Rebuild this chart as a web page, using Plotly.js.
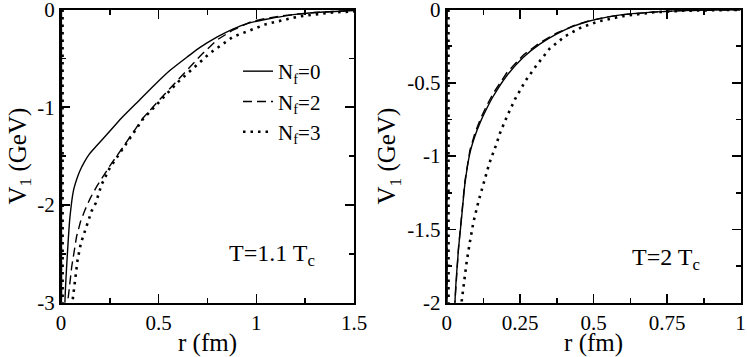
<!DOCTYPE html>
<html>
<head>
<meta charset="utf-8">
<script src="https://cdn.plot.ly/plotly-3.0.1.min.js"></script>
<style>
html, body { margin: 0; padding: 0; background: #fff; }
#chart { width: 747px; height: 357px; }
</style>
</head>
<body>
<div id="chart"></div>
<script>
// left panel: T = 1.1 Tc
var rLeft0 = [0.002, 0.003, 0.02, 0.034, 0.046, 0.063, 0.08, 0.097, 0.12, 0.145, 0.18, 0.23, 0.31, 0.4, 0.48, 0.56, 0.65, 0.71, 0.8, 0.88, 0.96, 1.05, 1.15, 1.22, 1.3, 1.4, 1.5];
var vLeft0 = [0, -10, -3.0, -2.46, -2.12, -1.86, -1.74, -1.65, -1.56, -1.48, -1.40, -1.29, -1.11, -0.93, -0.77, -0.62, -0.48, -0.39, -0.28, -0.20, -0.14, -0.10, -0.065, -0.045, -0.03, -0.02, -0.01];

var rLeft2 = [0.002, 0.003, 0.034, 0.055, 0.08, 0.1, 0.123, 0.15, 0.183, 0.25, 0.31, 0.36, 0.42, 0.515, 0.62, 0.72, 0.8, 0.88, 0.98, 1.05, 1.15, 1.22, 1.3, 1.4, 1.5];
var vLeft2 = [0, -10, -3.0, -2.63, -2.32, -2.17, -2.05, -1.93, -1.81, -1.60, -1.43, -1.28, -1.11, -0.90, -0.68, -0.46, -0.31, -0.21, -0.12, -0.09, -0.06, -0.045, -0.03, -0.02, -0.01];

var rLeft3 = [0.008, 0.009, 0.058, 0.072, 0.085, 0.102, 0.123, 0.14, 0.157, 0.178, 0.208, 0.25, 0.31, 0.42, 0.515, 0.6, 0.7, 0.76, 0.88, 1.05, 1.22, 1.39, 1.5];
var vLeft3 = [0, -10, -3.0, -2.78, -2.56, -2.39, -2.27, -2.17, -2.06, -1.98, -1.79, -1.62, -1.44, -1.12, -0.92, -0.74, -0.56, -0.45, -0.28, -0.15, -0.07, -0.03, -0.02];

// right panel: T = 2 Tc
var rRight0 = [0.001, 0.002, 0.028, 0.04, 0.051, 0.062, 0.079, 0.095, 0.114, 0.135, 0.159, 0.205, 0.261, 0.318, 0.375, 0.432, 0.483, 0.55, 0.6, 0.7, 0.8, 0.9, 1];
var vRight0 = [0, -10, -2.0, -1.64, -1.415, -1.19, -0.98, -0.87, -0.77, -0.68, -0.59, -0.45, -0.325, -0.234, -0.166, -0.114, -0.08, -0.05, -0.035, -0.018, -0.008, -0.004, -0.002];
var vRight2 = [0, -10, -2.0, -1.63, -1.40, -1.17, -0.96, -0.85, -0.75, -0.66, -0.57, -0.43, -0.31, -0.225, -0.16, -0.11, -0.078, -0.05, -0.035, -0.018, -0.008, -0.004, -0.002];

var rRight3 = [0.006, 0.007, 0.051, 0.059, 0.068, 0.079, 0.091, 0.108, 0.125, 0.145, 0.167, 0.182, 0.205, 0.233, 0.267, 0.307, 0.35, 0.403, 0.46, 0.52, 0.6, 0.7, 0.8, 0.9, 1];
var vRight3 = [0, -10, -1.99, -1.86, -1.72, -1.585, -1.45, -1.31, -1.19, -1.05, -0.93, -0.84, -0.73, -0.61, -0.49, -0.377, -0.268, -0.182, -0.12, -0.08, -0.045, -0.02, -0.009, -0.004, -0.002];

var seriesNames = ["N<sub>f</sub>=0", "N<sub>f</sub>=2", "N<sub>f</sub>=3"];

var xTicksLeft = [0, 0.5, 1, 1.5];
var xTextLeft = ["0", "0.5", "1", "1.5"];
var yTicksLeft = [-3, -2, -1, 0];
var yTextLeft = ["-3", "-2", "-1", "0"];
var xTicksRight = [0, 0.25, 0.5, 0.75, 1];
var xTextRight = ["0", "0.25", "0.5", "0.75", "1"];
var yTicksRight = [-2, -1.5, -1, -0.5, 0];
var yTextRight = ["-2", "-1.5", "-1", "-0.5", "0"];

var serif = "Liberation Serif";
var solid = {color: "#000", width: 1.4, shape: "spline", smoothing: 0.6};
var dashed = {color: "#000", width: 1.4, dash: "9px,5px"};
var dotted = {color: "#000", width: 2.6, dash: "2.5px,5px"};

var data = [
  {x: rLeft0, y: vLeft0, name: seriesNames[0], mode: "lines", line: solid, xaxis: "x", yaxis: "y"},
  {x: rLeft2, y: vLeft2, name: seriesNames[1], mode: "lines", line: dashed, xaxis: "x", yaxis: "y"},
  {x: rLeft3, y: vLeft3, name: seriesNames[2], mode: "lines", line: dotted, xaxis: "x", yaxis: "y"},
  {x: rRight0, y: vRight0, name: seriesNames[0], mode: "lines", line: solid, xaxis: "x2", yaxis: "y2", showlegend: false},
  {x: rRight0, y: vRight2, name: seriesNames[1], mode: "lines", line: dashed, xaxis: "x2", yaxis: "y2", showlegend: false},
  {x: rRight3, y: vRight3, name: seriesNames[2], mode: "lines", line: dotted, xaxis: "x2", yaxis: "y2", showlegend: false}
];

function axis(range, vals, text, minorStep, title, domain, anchor) {
  return {
    range: range, domain: domain, anchor: anchor,
    tickmode: "array", tickvals: vals, ticktext: text,
    ticks: "inside", ticklen: 9, tickwidth: 1.5, tickcolor: "#000",
    minor: {dtick: minorStep, ticks: "inside", ticklen: 5, tickwidth: 1.5, tickcolor: "#000"},
    showline: true, linecolor: "#000", linewidth: 2, mirror: "allticks",
    showgrid: false, zeroline: false, automargin: false,
    ticklabeloverflow: "allow",
    tickfont: {family: serif, size: 21, color: "#000"},
    title: {text: title, font: {family: serif, size: 25, color: "#000"}, standoff: 4}
  };
}

var yDom = [1 - 302.7 / 357, 1 - 9.5 / 357];

var layout = {
  width: 747, height: 357,
  margin: {l: 0, r: 0, t: 0, b: 0},
  font: {family: serif, size: 21, color: "#000"},
  paper_bgcolor: "#fff", plot_bgcolor: "#fff",
  showlegend: true,
  xaxis: axis([0, 1.5], xTicksLeft, xTextLeft, 0.25, "r (fm)", [61 / 747, 354 / 747], "y"),
  yaxis: axis([-3, 0], yTicksLeft, yTextLeft, 0.5, "V<sub>1</sub> (GeV)", yDom, "x"),
  xaxis2: axis([0, 1], xTicksRight, xTextRight, 0.125, "r (fm)", [446.7 / 747, 740.5 / 747], "y2"),
  yaxis2: axis([-2, 0], yTicksRight, yTextRight, 0.25, "V<sub>1</sub> (GeV)", yDom, "x2"),
  legend: {
    x: 238 / 747, y: 1 - 51 / 357, xanchor: "left", yanchor: "top",
    bgcolor: "rgba(0,0,0,0)", borderwidth: 0,
    font: {family: serif, size: 21, color: "#000"}
  },
  annotations: [
    {xref: "x", yref: "y", x: 1.08, y: -2.51, text: "T=1.1 T<sub>c</sub>", showarrow: false,
     font: {family: serif, size: 24, color: "#000"}},
    {xref: "x2", yref: "y2", x: 0.748, y: -1.70, text: "T=2 T<sub>c</sub>", showarrow: false,
     font: {family: serif, size: 24, color: "#000"}}
  ]
};

Plotly.newPlot("chart", data, layout, {staticPlot: true});
</script>
</body>
</html>
